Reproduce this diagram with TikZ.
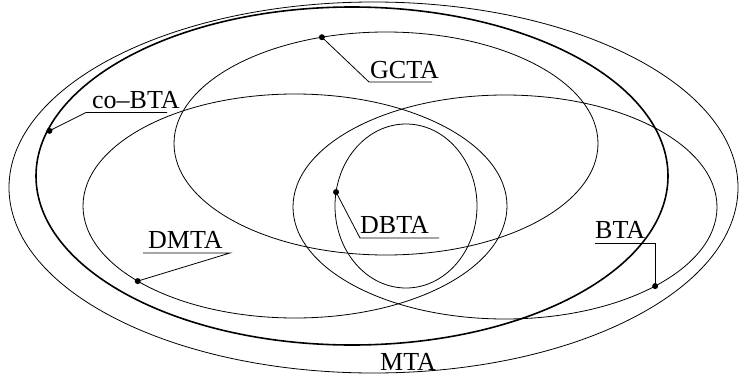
\documentclass[tikz,border=0pt]{standalone}
\usepackage{fontspec}
\setmainfont{Liberation Serif}
\usetikzlibrary{calc}
\begin{document}
\begin{tikzpicture}[x=1pt,y=-1pt,
  thinline/.style={line width=0.8pt},
  thickline/.style={line width=1.6pt},
  lab/.style={anchor=base west,inner sep=0pt,font=\fontsize{26}{30}\selectfont},
  dotmark/.style={fill=black}]
\useasboundingbox (0,0) rectangle (739,383);
% ellipse centres
\coordinate (mc) at (373.5,187.5);
\coordinate (cc) at (352,176);
\coordinate (gc) at (386,143.5);
\coordinate (dc) at (295,206);
\coordinate (bc) at (505,207);
\coordinate (sc) at (406,206);
% ellipses
\draw[thinline] (mc) ellipse [x radius=364.5, y radius=185.5];
\draw[thickline] (cc) ellipse [x radius=316, y radius=169];
\draw[thinline] (gc) ellipse [x radius=212, y radius=111.5];
\draw[thinline] (dc) ellipse [x radius=212, y radius=112];
\draw[thinline] (bc) ellipse [x radius=212, y radius=112];
\draw[thinline] (sc) ellipse [x radius=71, y radius=82];
% points on the ellipses
\coordinate (gdot) at ($(gc)+(252.4:212 and 111.5)$);
\coordinate (cdot) at ($(cc)+(195.5:314 and 169)$);
\coordinate (ddot) at ($(dc)+(137.9:212 and 112)$);
\coordinate (sdot) at ($(sc)+(189.8:71 and 82)$);
\coordinate (bdot) at ($(bc)+(44.9:212 and 112)$);
% labels
\node[lab] (gcta) at (370,78) {GCTA};
\node[lab] (cobta) at (92,108) {co–BTA};
\node[lab] (dbta) at (360,233) {DBTA};
\node[lab] (dmta) at (148,248) {DMTA};
\node[lab] (bta) at (595,238) {BTA};
\node[lab] (mta) at (380,370) {MTA};
% underline ends
\coordinate (g1) at (369,82);   \coordinate (g2) at (432,82);
\coordinate (c1) at (86,112.5); \coordinate (c2) at (167,112.5);
\coordinate (s1) at (360,238);  \coordinate (s2) at (439,238);
\coordinate (d1) at (230,253);  \coordinate (d2) at (143,253);
\coordinate (b1) at (bdot|-0,243); \coordinate (b2) at (595,243);
% leaders
\draw[thinline] (gdot) -- (g1) -- (g2);
\draw[thinline] (cdot) -- (c1) -- (c2);
\draw[thinline] (sdot) -- (s1) -- (s2);
\draw[thinline] (ddot) -- (d1) -- (d2);
\draw[thinline] (bdot) -- (b1) -- (b2);
% dots
\foreach \p in {gdot,cdot,ddot,sdot,bdot} \fill[dotmark] (\p) circle (3);
\end{tikzpicture}
\end{document}
